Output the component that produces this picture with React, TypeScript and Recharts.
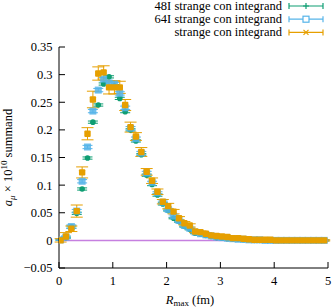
import React from 'react';
import { ScatterChart, Scatter, XAxis, YAxis, ErrorBar, Label } from 'recharts';

// R_max (fm) sampling points
const R_MAX = [
  0.03, 0.13, 0.23, 0.33, 0.43, 0.53, 0.63, 0.73, 0.83, 0.93,
  1.03, 1.13, 1.23, 1.33, 1.43, 1.53, 1.63, 1.73, 1.83, 1.93,
  2.03, 2.13, 2.23, 2.33, 2.43, 2.53, 2.63, 2.73, 2.83, 2.93,
  3.03, 3.13, 3.23, 3.33, 3.43, 3.53, 3.63, 3.73, 3.83, 3.93,
  4.03, 4.13, 4.23, 4.33, 4.43, 4.53, 4.63, 4.73, 4.83, 4.93
];

// 48I strange con integrand
const S48 = [
  0.001, 0.005, 0.024, 0.049, 0.093, 0.149, 0.214, 0.245, 0.283, 0.296,
  0.280, 0.257, 0.233, 0.200, 0.180, 0.155, 0.118, 0.101, 0.082, 0.066,
  0.054, 0.040, 0.034, 0.025, 0.020, 0.013, 0.011, 0.009, 0.007, 0.005,
  0.004, 0.003, 0.002, 0.002, 0.001, 0.001, 0.000, 0.000, 0.000, 0.000,
  0.000, 0.000, 0.000, 0.000, 0.000, 0.000, 0.000, 0.000, 0.000, 0.000
];
const S48_ERR = [
  0.001, 0.001, 0.002, 0.002, 0.002, 0.002, 0.002, 0.002, 0.002, 0.002,
  0.002, 0.002, 0.002, 0.002, 0.002, 0.002, 0.002, 0.002, 0.002, 0.002,
  0.001, 0.001, 0.001, 0.001, 0.001, 0.001, 0.001, 0.001, 0.001, 0.001,
  0.001, 0.001, 0.001, 0.001, 0.001, 0.001, 0.001, 0.001, 0.001, 0.001,
  0.001, 0.001, 0.001, 0.001, 0.001, 0.001, 0.001, 0.001, 0.001, 0.001
];

// 64I strange con integrand
const S64 = [
  0.001, 0.006, 0.025, 0.053, 0.107, 0.169, 0.234, 0.272, 0.292, 0.285,
  0.283, 0.266, 0.240, 0.203, 0.184, 0.158, 0.122, 0.105, 0.086, 0.069,
  0.056, 0.044, 0.036, 0.027, 0.022, 0.015, 0.012, 0.010, 0.008, 0.006,
  0.005, 0.004, 0.003, 0.002, 0.002, 0.001, 0.001, 0.001, 0.000, 0.000,
  0.000, 0.000, 0.000, 0.000, 0.000, 0.000, 0.000, 0.000, 0.000, 0.000
];
const S64_ERR = [
  0.001, 0.002, 0.003, 0.003, 0.003, 0.003, 0.003, 0.003, 0.003, 0.003,
  0.003, 0.003, 0.003, 0.003, 0.003, 0.003, 0.003, 0.002, 0.002, 0.002,
  0.002, 0.002, 0.002, 0.002, 0.002, 0.001, 0.001, 0.001, 0.001, 0.001,
  0.001, 0.001, 0.001, 0.001, 0.001, 0.001, 0.001, 0.001, 0.001, 0.001,
  0.001, 0.001, 0.001, 0.001, 0.001, 0.001, 0.001, 0.001, 0.001, 0.001
];

// strange con integrand
const SCON = [
  0.000, 0.007, 0.021, 0.053, 0.123, 0.193, 0.255, 0.302, 0.304, 0.277,
  0.277, 0.277, 0.245, 0.205, 0.188, 0.160, 0.124, 0.108, 0.088, 0.070,
  0.062, 0.052, 0.040, 0.031, 0.027, 0.016, 0.015, 0.012, 0.009, 0.008,
  0.007, 0.006, 0.004, 0.004, 0.003, 0.002, 0.001, 0.001, 0.001, 0.001,
  0.000, 0.000, 0.000, 0.000, 0.000, 0.000, 0.000, 0.000, 0.000, 0.000
];
const SCON_ERR = [
  0.003, 0.007, 0.005, 0.011, 0.010, 0.011, 0.015, 0.012, 0.012, 0.012,
  0.012, 0.011, 0.010, 0.009, 0.007, 0.008, 0.006, 0.005, 0.005, 0.004,
  0.005, 0.004, 0.003, 0.003, 0.003, 0.002, 0.002, 0.002, 0.002, 0.002,
  0.001, 0.001, 0.001, 0.001, 0.001, 0.001, 0.001, 0.001, 0.001, 0.001,
  0.001, 0.001, 0.001, 0.001, 0.001, 0.001, 0.001, 0.001, 0.001, 0.001
];

const X_TICKS = [0, 1, 2, 3, 4, 5];
const Y_TICKS = [-0.05, 0, 0.05, 0.1, 0.15, 0.2, 0.25, 0.3, 0.35];
const ZERO_X = [0, 5];

const LEGEND = [
  { name: '48I strange con integrand', color: '#0f9e73', mark: 'plus' },
  { name: '64I strange con integrand', color: '#56b4e9', mark: 'box' },
  { name: 'strange con integrand', color: '#e69f00', mark: 'cross' }
];

const FONT = "'Liberation Serif', serif";
const FS = 12.5;
const PURPLE = '#c680e0';

const toPoints = (ys: number[], errs: number[]) =>
  R_MAX.map((x, i) => ({ x, y: ys[i], err: errs[i] }));

const fmtY = (v: number) => (v < 0 ? '\u2212' + String(-v) : String(v));

const GreenDot = (p: any) => <circle cx={p.cx} cy={p.cy} r={2.8} fill="#0f9e73" />;
const BlueBox = (p: any) => (
  <rect x={p.cx - 3.5} y={p.cy - 3.5} width={7} height={7} fill="#56b4e9" fillOpacity={0.85} />
);
const OrangeBox = (p: any) => (
  <rect x={p.cx - 3.2} y={p.cy - 3.2} width={6.4} height={6.4} rx={1} fill="#e69f00" />
);
const Nothing = () => <g />;

const tickStyle = { fill: '#000', fontSize: FS };

function LegendBox() {
  return (
    <svg width={332} height={42} style={{ position: 'absolute', left: 0, top: 0 }}>
      {LEGEND.map((l, i) => {
        const cy = 6 + i * 13.2;
        return (
          <g key={l.name}>
            <text x={282} y={cy + 4} textAnchor="end" fontSize={FS} fill="#000">
              {l.name}
            </text>
            <line x1={289} x2={323} y1={cy} y2={cy} stroke={l.color} strokeWidth={1.2} />
            <line x1={289} x2={289} y1={cy - 3} y2={cy + 3} stroke={l.color} strokeWidth={1.2} />
            <line x1={323} x2={323} y1={cy - 3} y2={cy + 3} stroke={l.color} strokeWidth={1.2} />
            {l.mark === 'plus' && (
              <path d={`M303,${cy}h6M306,${cy - 3}v6`} stroke={l.color} strokeWidth={1.2} />
            )}
            {l.mark === 'box' && (
              <rect x={303} y={cy - 3} width={6} height={6} fill="#fff" stroke={l.color} strokeWidth={1.2} />
            )}
            {l.mark === 'cross' && (
              <path d={`M303.5,${cy - 2.5}l5,5M303.5,${cy + 2.5}l5,-5`} stroke={l.color} strokeWidth={1.2} />
            )}
          </g>
        );
      })}
    </svg>
  );
}

const YLabel = (props: any) => {
  const vb = props.viewBox || { y: 47, height: 221 };
  const cx = 12;
  const cy = vb.y + vb.height / 2;
  return (
    <text
      x={cx}
      y={cy}
      transform={`rotate(-90, ${cx}, ${cy})`}
      textAnchor="middle"
      fontSize={FS}
      fill="#000"
    >
      <tspan fontStyle="italic">a</tspan>
      <tspan fontSize={9} fontStyle="italic" dy={3}>μ</tspan>
      <tspan dy={-3}> × 10</tspan>
      <tspan fontSize={9} dy={-5}>10</tspan>
      <tspan dy={5}> summand</tspan>
    </text>
  );
};

const XLabel = () => (
  <text x={190} y={304} textAnchor="middle" fontSize={FS} fill="#000">
    <tspan fontStyle="italic">R</tspan>
    <tspan fontSize={9} dy={2}>max</tspan>
    <tspan dy={-2}> (fm)</tspan>
  </text>
);

export default function App() {
  const d48 = toPoints(S48, S48_ERR);
  const d64 = toPoints(S64, S64_ERR);
  const dcon = toPoints(SCON, SCON_ERR);
  const zero = ZERO_X.map((x) => ({ x, y: 0 }));

  return (
    <div style={{ position: 'relative', width: 332, height: 308, background: '#fff' }}>
      <style>{`body { margin: 0; } svg text { font-family: ${FONT}; }`}</style>
      <ScatterChart width={332} height={308} margin={{ top: 47, right: 4, bottom: 0, left: 0 }}>
        <XAxis
          xAxisId="b"
          dataKey="x"
          type="number"
          domain={[0, 5]}
          ticks={X_TICKS}
          allowDataOverflow
          height={40}
          tickSize={-6}
          tickMargin={14}
          tick={tickStyle}
          stroke="#000"
        >
          <Label content={XLabel} />
        </XAxis>
        <XAxis
          xAxisId="t"
          orientation="top"
          dataKey="x"
          type="number"
          domain={[0, 5]}
          ticks={X_TICKS}
          allowDataOverflow
          height={0}
          tickSize={-6}
          tickFormatter={() => ''}
          stroke="#000"
        />
        <YAxis
          yAxisId="l"
          dataKey="y"
          type="number"
          domain={[-0.05, 0.35]}
          ticks={Y_TICKS}
          allowDataOverflow
          width={59}
          tickSize={-6}
          tickMargin={12.5}
          tickFormatter={fmtY}
          tick={tickStyle}
          stroke="#000"
        >
          <Label content={YLabel} />
        </YAxis>
        <YAxis
          yAxisId="r"
          orientation="right"
          dataKey="y"
          type="number"
          domain={[-0.05, 0.35]}
          ticks={Y_TICKS}
          allowDataOverflow
          width={0}
          tickSize={-6}
          tickFormatter={() => ''}
          stroke="#000"
        />
        <Scatter
          xAxisId="b"
          yAxisId="l"
          data={zero}
          line={{ stroke: PURPLE, strokeWidth: 1.5 }}
          shape={Nothing}
          isAnimationActive={false}
        />
        <Scatter xAxisId="b" yAxisId="l" data={d48} shape={GreenDot} isAnimationActive={false}>
          <ErrorBar dataKey="err" direction="y" width={5} stroke="#0f9e73" strokeWidth={1} isAnimationActive={false} />
        </Scatter>
        <Scatter xAxisId="b" yAxisId="l" data={d64} shape={BlueBox} isAnimationActive={false}>
          <ErrorBar dataKey="err" direction="y" width={5} stroke="#56b4e9" strokeWidth={1} isAnimationActive={false} />
        </Scatter>
        <Scatter xAxisId="b" yAxisId="l" data={dcon} shape={OrangeBox} isAnimationActive={false}>
          <ErrorBar dataKey="err" direction="y" width={6} stroke="#e69f00" strokeWidth={1} isAnimationActive={false} />
        </Scatter>
      </ScatterChart>
      <LegendBox />
    </div>
  );
}
